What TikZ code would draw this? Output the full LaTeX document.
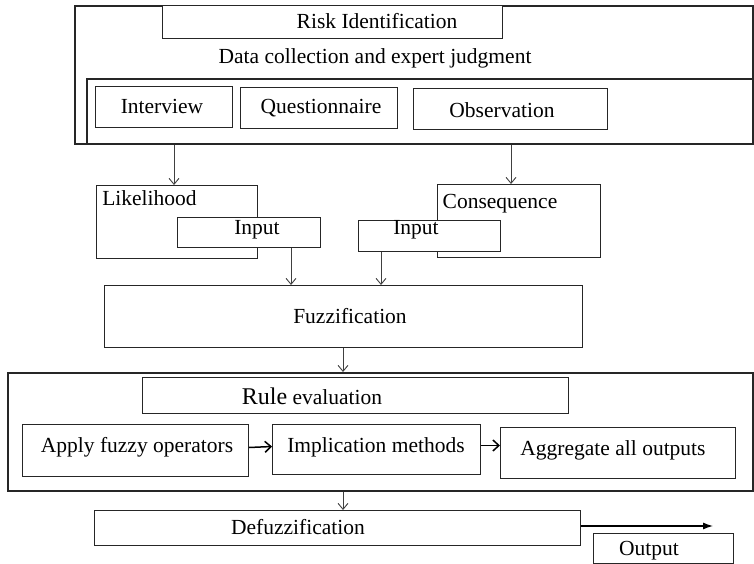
\documentclass[tikz,border=0pt]{standalone}
\usepackage{fontspec}
\setmainfont{Liberation Serif}
\usetikzlibrary{arrows.meta}
\begin{document}
\begin{tikzpicture}[x=1pt,y=-1pt,
  box/.style={draw=black!85, line width=1pt, fill=white, rectangle, inner sep=0pt, anchor=north west},
  frame/.style={draw=black!85, line width=1.6pt, rectangle, inner sep=0pt, anchor=north west},
  txt/.style={inner sep=0pt, font=\fontsize{21.5}{25}\selectfont},
  arr/.style={draw=black!75, line width=0.9pt, -{Straight Barb[length=6pt,width=10pt]}},
  tarr/.style={draw=black, line width=1.5pt, -{Straight Barb[length=6pt,width=11pt]}},
  larr/.style={draw=black, line width=1.2pt, -{Latex[length=10pt,width=7pt]}}]
\useasboundingbox (0,0) rectangle (754,564);
\fill[white] (0,0) rectangle (754,564);
% top section
\node[frame, minimum width=678, minimum height=138] (topframe) at (74,5) {};
\node[box, minimum width=340, minimum height=33] (risk) at (162,5) {};
\node[txt] (risktxt) at (377,21) {Risk Identification};
\node[txt] (datatxt) at (375,58) {Data collection and expert judgment};
\node[frame, minimum width=666, minimum height=65] (inner) at (86,78) {};
\node[box, minimum width=137, minimum height=41] (interview) at (95,86) {};
\node[txt] at (162,106) {Interview};
\node[box, minimum width=157, minimum height=41] (quest) at (240,87) {};
\node[txt] at (321,108) {Questionnaire};
\node[box, minimum width=194, minimum height=41] (obs) at (413,88) {};
\node[txt] at (502,110) {Observation};
% likelihood / consequence
\node[box, minimum width=161, minimum height=73] (like) at (96,185) {};
\node[txt] at (149.5,198) {Likelihood};
\node[box, minimum width=143, minimum height=30] (in1) at (177,217) {};
\node[txt] at (257,230) {Input};
\node[box, minimum width=163, minimum height=73] (cons) at (437,184) {};
\node[txt] at (500,204) {Consequence};
\node[box, minimum width=142, minimum height=31] (in2) at (358,220) {};
\node[txt] at (416,230) {Input};
% fuzzification
\node[box, minimum width=478, minimum height=62] (fuzz) at (104,285) {};
\node[txt] at (350,316) {Fuzzification};
% rule evaluation
\node[frame, minimum width=745, minimum height=118] (ruleframe) at (7,372) {};
\node[box, minimum width=426, minimum height=36] (rule) at (142,377) {};
\node[txt] at (312,396) {{\fontsize{24}{28}\selectfont Rule} evaluation};
\node[box, minimum width=226, minimum height=52] (apply) at (22,424) {};
\node[txt] at (137,447) {Apply fuzzy operators};
\node[box, minimum width=208, minimum height=50] (impl) at (272,424) {};
\node[txt] at (376,447) {Implication methods};
\node[box, minimum width=235, minimum height=51] (aggr) at (500,427) {};
\node[txt] at (613,450) {Aggregate all outputs};
% defuzzification
\node[box, minimum width=486, minimum height=35] (defuzz) at (94,510) {};
\node[txt] at (298,527) {Defuzzification};
\node[box, minimum width=140, minimum height=30] (output) at (593,533) {};
\node[txt] at (649,551) {Output};
% connectors
\coordinate (c1) at (174,0);
\coordinate (c2) at (511,0);
\coordinate (c3) at (291,0);
\coordinate (c4) at (381,0);
\coordinate (c5) at (343,0);
\coordinate (outend) at (713,526);
\draw[arr] (topframe.south -| c1) -- (like.north -| c1);
\draw[arr] (topframe.south -| c2) -- (cons.north -| c2);
\draw[arr] (in1.south -| c3) -- (fuzz.north -| c3);
\draw[arr] (in2.south -| c4) -- (fuzz.north -| c4);
\draw[arr] (fuzz.south -| c5) -- (ruleframe.north -| c5);
\draw[arr] (ruleframe.south -| c5) -- (defuzz.north -| c5);
\draw[tarr] ([yshift=3pt]apply.east) -- ([yshift=3pt]impl.west);
\draw[tarr] ([yshift=4pt]impl.east) -- ([yshift=4pt]aggr.west |- impl.east);
\draw[larr] (defuzz.east |- outend) -- (outend);
\end{tikzpicture}
\end{document}
